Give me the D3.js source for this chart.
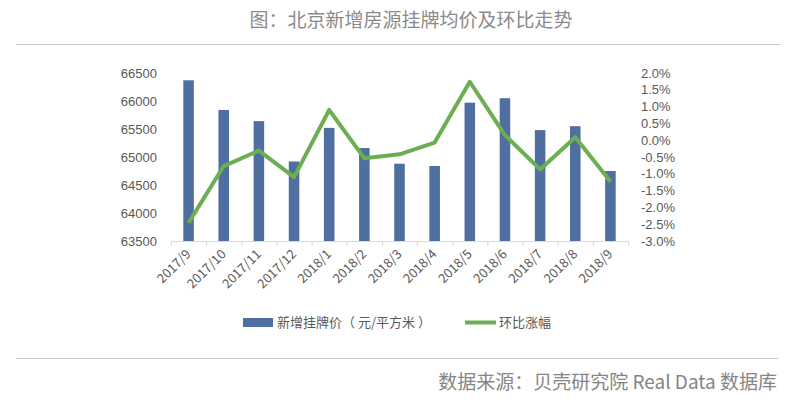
<!DOCTYPE html>
<html>
<head>
<meta charset="utf-8">
<script src="https://cdn.jsdelivr.net/npm/d3@7"></script>
<style>
  body { margin: 0; background: #fff; }
  svg { display: block; font-family: "Noto Sans CJK SC", "Noto Sans", sans-serif; }
  .axis text { fill: #595959; font-size: 13px; }
</style>
</head>
<body>
<div id="chart"></div>
<script>
// months on the x axis
const months = ['2017/9', '2017/10', '2017/11', '2017/12', '2018/1', '2018/2', '2018/3',
    '2018/4', '2018/5', '2018/6', '2018/7', '2018/8', '2018/9'];
// new listing average price (yuan / m2)
const prices = [66370, 65840, 65640, 64920, 65520, 65160, 64880, 64840, 65970, 66050, 65480, 65550, 64750];
// month-on-month change (%)
const changes = [-2.46, -0.77, -0.31, -1.10, 0.90, -0.54, -0.42, -0.07, 1.74, 0.15, -0.87, 0.09, -1.23];

const leftTicks = [63500, 64000, 64500, 65000, 65500, 66000, 66500];
const rightTicks = [-3, -2.5, -2, -1.5, -1, -0.5, 0, 0.5, 1, 1.5, 2];

const width = 792, height = 405;
const margin = {top: 73, left: 171, right: 164, bottom: 164};
const innerW = width - margin.left - margin.right;
const innerH = height - margin.top - margin.bottom;

const svg = d3.select('#chart').append('svg')
    .attr('width', width)
    .attr('height', height);

// title + rules
svg.append('text')
    .attr('x', 411).attr('y', 27)
    .attr('text-anchor', 'middle')
    .attr('fill', '#8a8a8a')
    .attr('font-size', 19)
    .text('图：北京新增房源挂牌均价及环比走势');

svg.append('line')
    .attr('x1', 16).attr('x2', 780).attr('y1', 44.5).attr('y2', 44.5)
    .attr('stroke', '#c8c8c8').attr('stroke-width', 1.2);

svg.append('line')
    .attr('x1', 16).attr('x2', 778).attr('y1', 358.5).attr('y2', 358.5)
    .attr('stroke', '#c8c8c8').attr('stroke-width', 1.2);

svg.append('text')
    .attr('x', 777).attr('y', 389)
    .attr('text-anchor', 'end')
    .attr('fill', '#858585')
    .attr('font-size', 19)
    .text('数据来源：贝壳研究院 Real Data 数据库');

const chart = svg.append('g')
    .attr('transform', `translate(${margin.left},${margin.top})`);

// scales
const xScale = d3.scaleBand().domain(months).range([0, innerW]).padding(0);
const yLeft = d3.scaleLinear().domain([63500, 66500]).range([innerH, 0]);
const yRight = d3.scaleLinear().domain([-3, 2]).range([innerH, 0]);

// bars
const barW = xScale.bandwidth() * 0.3;
chart.selectAll('.bar')
    .data(months)
    .join('rect')
    .attr('class', 'bar')
    .attr('x', (d) => xScale(d) + xScale.bandwidth() / 2 - barW / 2)
    .attr('y', (d, i) => yLeft(prices[i]))
    .attr('width', barW)
    .attr('height', (d, i) => innerH - yLeft(prices[i]))
    .attr('fill', '#4e6fa0');

// x axis: line and ticks at band boundaries
const xAxisG = chart.append('g').attr('class', 'axis x-axis')
    .attr('transform', `translate(0,${innerH})`);
xAxisG.append('line')
    .attr('x1', 0).attr('x2', innerW).attr('y1', 0.5).attr('y2', 0.5)
    .attr('stroke', '#d9d9d9');
xAxisG.selectAll('.tick-mark')
    .data(months.concat(['end']))
    .join('line')
    .attr('class', 'tick-mark')
    .attr('x1', (d, i) => i * xScale.step() + 0.5)
    .attr('x2', (d, i) => i * xScale.step() + 0.5)
    .attr('y1', 0).attr('y2', 5)
    .attr('stroke', '#d9d9d9');
xAxisG.selectAll('.xlabel')
    .data(months)
    .join('text')
    .attr('class', 'xlabel')
    .attr('text-anchor', 'end')
    .attr('transform', (d) => `translate(${xScale(d) + xScale.bandwidth() / 2 + 3},${14}) rotate(-45)`)
    .text((d) => d);

// left axis
const leftAxis = chart.append('g').attr('class', 'axis y-axis')
    .call(d3.axisLeft(yLeft).tickValues(leftTicks).tickSize(0).tickPadding(14).tickFormat(d3.format('d')));
leftAxis.select('.domain').remove();

// right axis
const rightAxis = chart.append('g').attr('class', 'axis y-axis-right')
    .attr('transform', `translate(${innerW},0)`)
    .call(d3.axisRight(yRight).tickValues(rightTicks).tickSize(0).tickPadding(13).tickFormat((d) => d.toFixed(1) + '%'));
rightAxis.select('.domain').remove();

// change line
const line = d3.line()
    .x((d, i) => xScale(months[i]) + xScale.bandwidth() / 2)
    .y((d) => yRight(d));

chart.append('path')
    .datum(changes)
    .attr('fill', 'none')
    .attr('stroke', '#6cae52')
    .attr('stroke-width', 4)
    .attr('stroke-linejoin', 'round')
    .attr('d', line);

// legend
const legend = svg.append('g').attr('font-size', 13).attr('fill', '#595959');
legend.append('rect')
    .attr('x', 243).attr('y', 318).attr('width', 30).attr('height', 9)
    .attr('fill', '#4e6fa0');
legend.append('text')
    .attr('x', 277).attr('y', 327)
    .text('新增挂牌价（ 元/平方米 ）');
legend.append('line')
    .attr('x1', 465).attr('x2', 496).attr('y1', 322.5).attr('y2', 322.5)
    .attr('stroke', '#6cae52').attr('stroke-width', 4);
legend.append('text')
    .attr('x', 499).attr('y', 327)
    .text('环比涨幅');
</script>
</body>
</html>
